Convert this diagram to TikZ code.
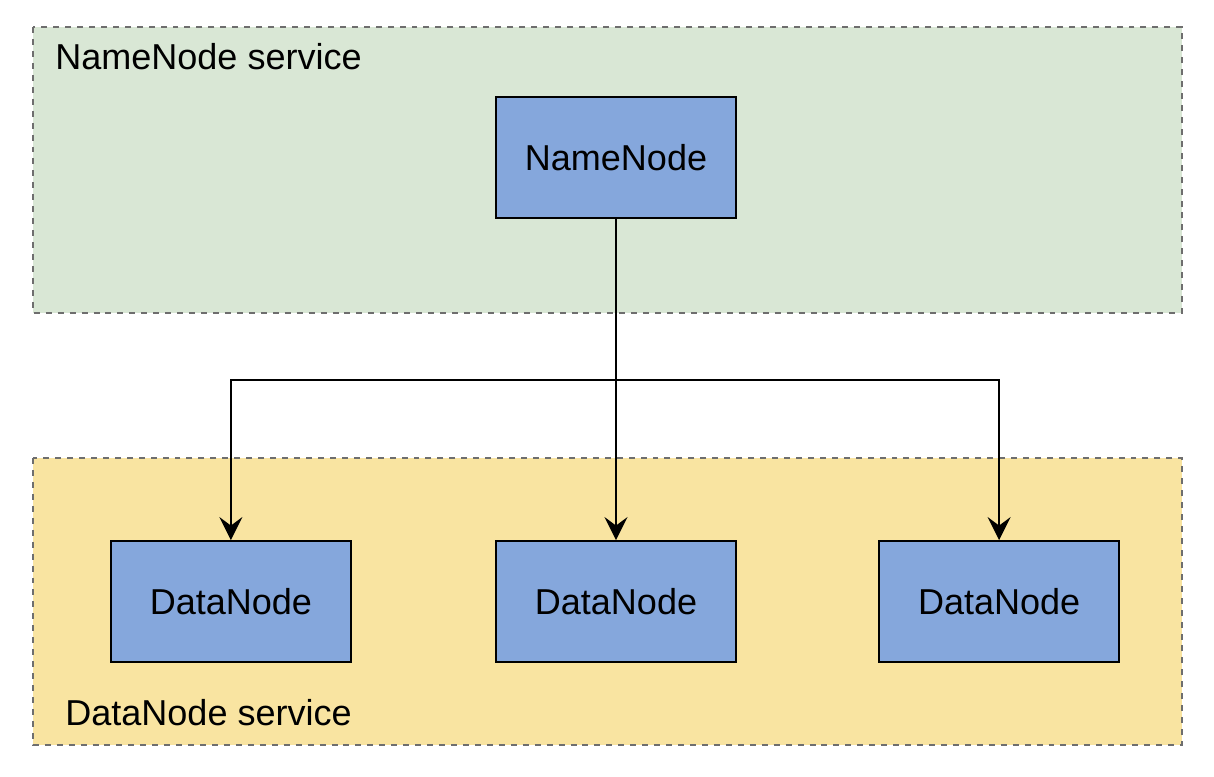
\documentclass[tikz,border=0pt]{standalone}
\usepackage{fontspec}
\setmainfont{Liberation Sans}
\usepackage{xcolor}
\usepackage{tikz}
\usetikzlibrary{arrows.meta, positioning, backgrounds}
\definecolor{nsgreen}{HTML}{D9E7D5}
\definecolor{dsyellow}{HTML}{F9E4A1}
\definecolor{nodeblue}{HTML}{85A7DC}
\definecolor{borderGray}{HTML}{6E6E6E}
\tikzstyle{hdfsnode} = [rectangle, minimum width=4.8cm, minimum height=2.42cm, text centered, draw=black, line width=1.2pt, fill=nodeblue, font=\fontsize{20.5}{24}\selectfont]
\tikzstyle{service} = [draw=borderGray, line width=1.1pt, dash pattern=on 3.4pt off 3.4pt]
\tikzstyle{svclabel} = [anchor=west, inner sep=0pt, font=\fontsize{20.5}{24}\selectfont]
\tikzstyle{arrow} = [line width=1.2pt,-{Stealth[length=0.46cm,width=0.46cm,inset=0.17cm]}]

\begin{document}
\begin{tikzpicture}
  \useasboundingbox (0,0) rectangle (24.28,-15.52);
  \begin{scope}[on background layer]
    % NameNode service
    \filldraw[service, fill=nsgreen] (0.66,-0.54) rectangle (23.64,-6.26);
    % DataNode service
    \filldraw[service, fill=dsyellow] (0.66,-9.16) rectangle (23.64,-14.90);
  \end{scope}
  \node (nslabel) [svclabel] at (1.10,-1.14) {NameNode service};
  \node (dslabel) [svclabel] at (1.30,-14.26) {DataNode service};

  % Nodes
  \node (nn) [hdfsnode] at (12.32,-3.15) {NameNode};
  \node (dn2) [hdfsnode, below=6.42cm of nn] {DataNode};
  \node (dn1) [hdfsnode, left=2.86cm of dn2] {DataNode};
  \node (dn3) [hdfsnode, right=2.82cm of dn2] {DataNode};

  % Arrows
  \coordinate (fork) at (12.32,-7.6);
  \draw[arrow] (nn.south) -- (dn2.north);
  \draw[arrow] (nn.south) -- (fork) -| (dn1.north);
  \draw[arrow] (nn.south) -- (fork) -| (dn3.north);
\end{tikzpicture}
\end{document}
